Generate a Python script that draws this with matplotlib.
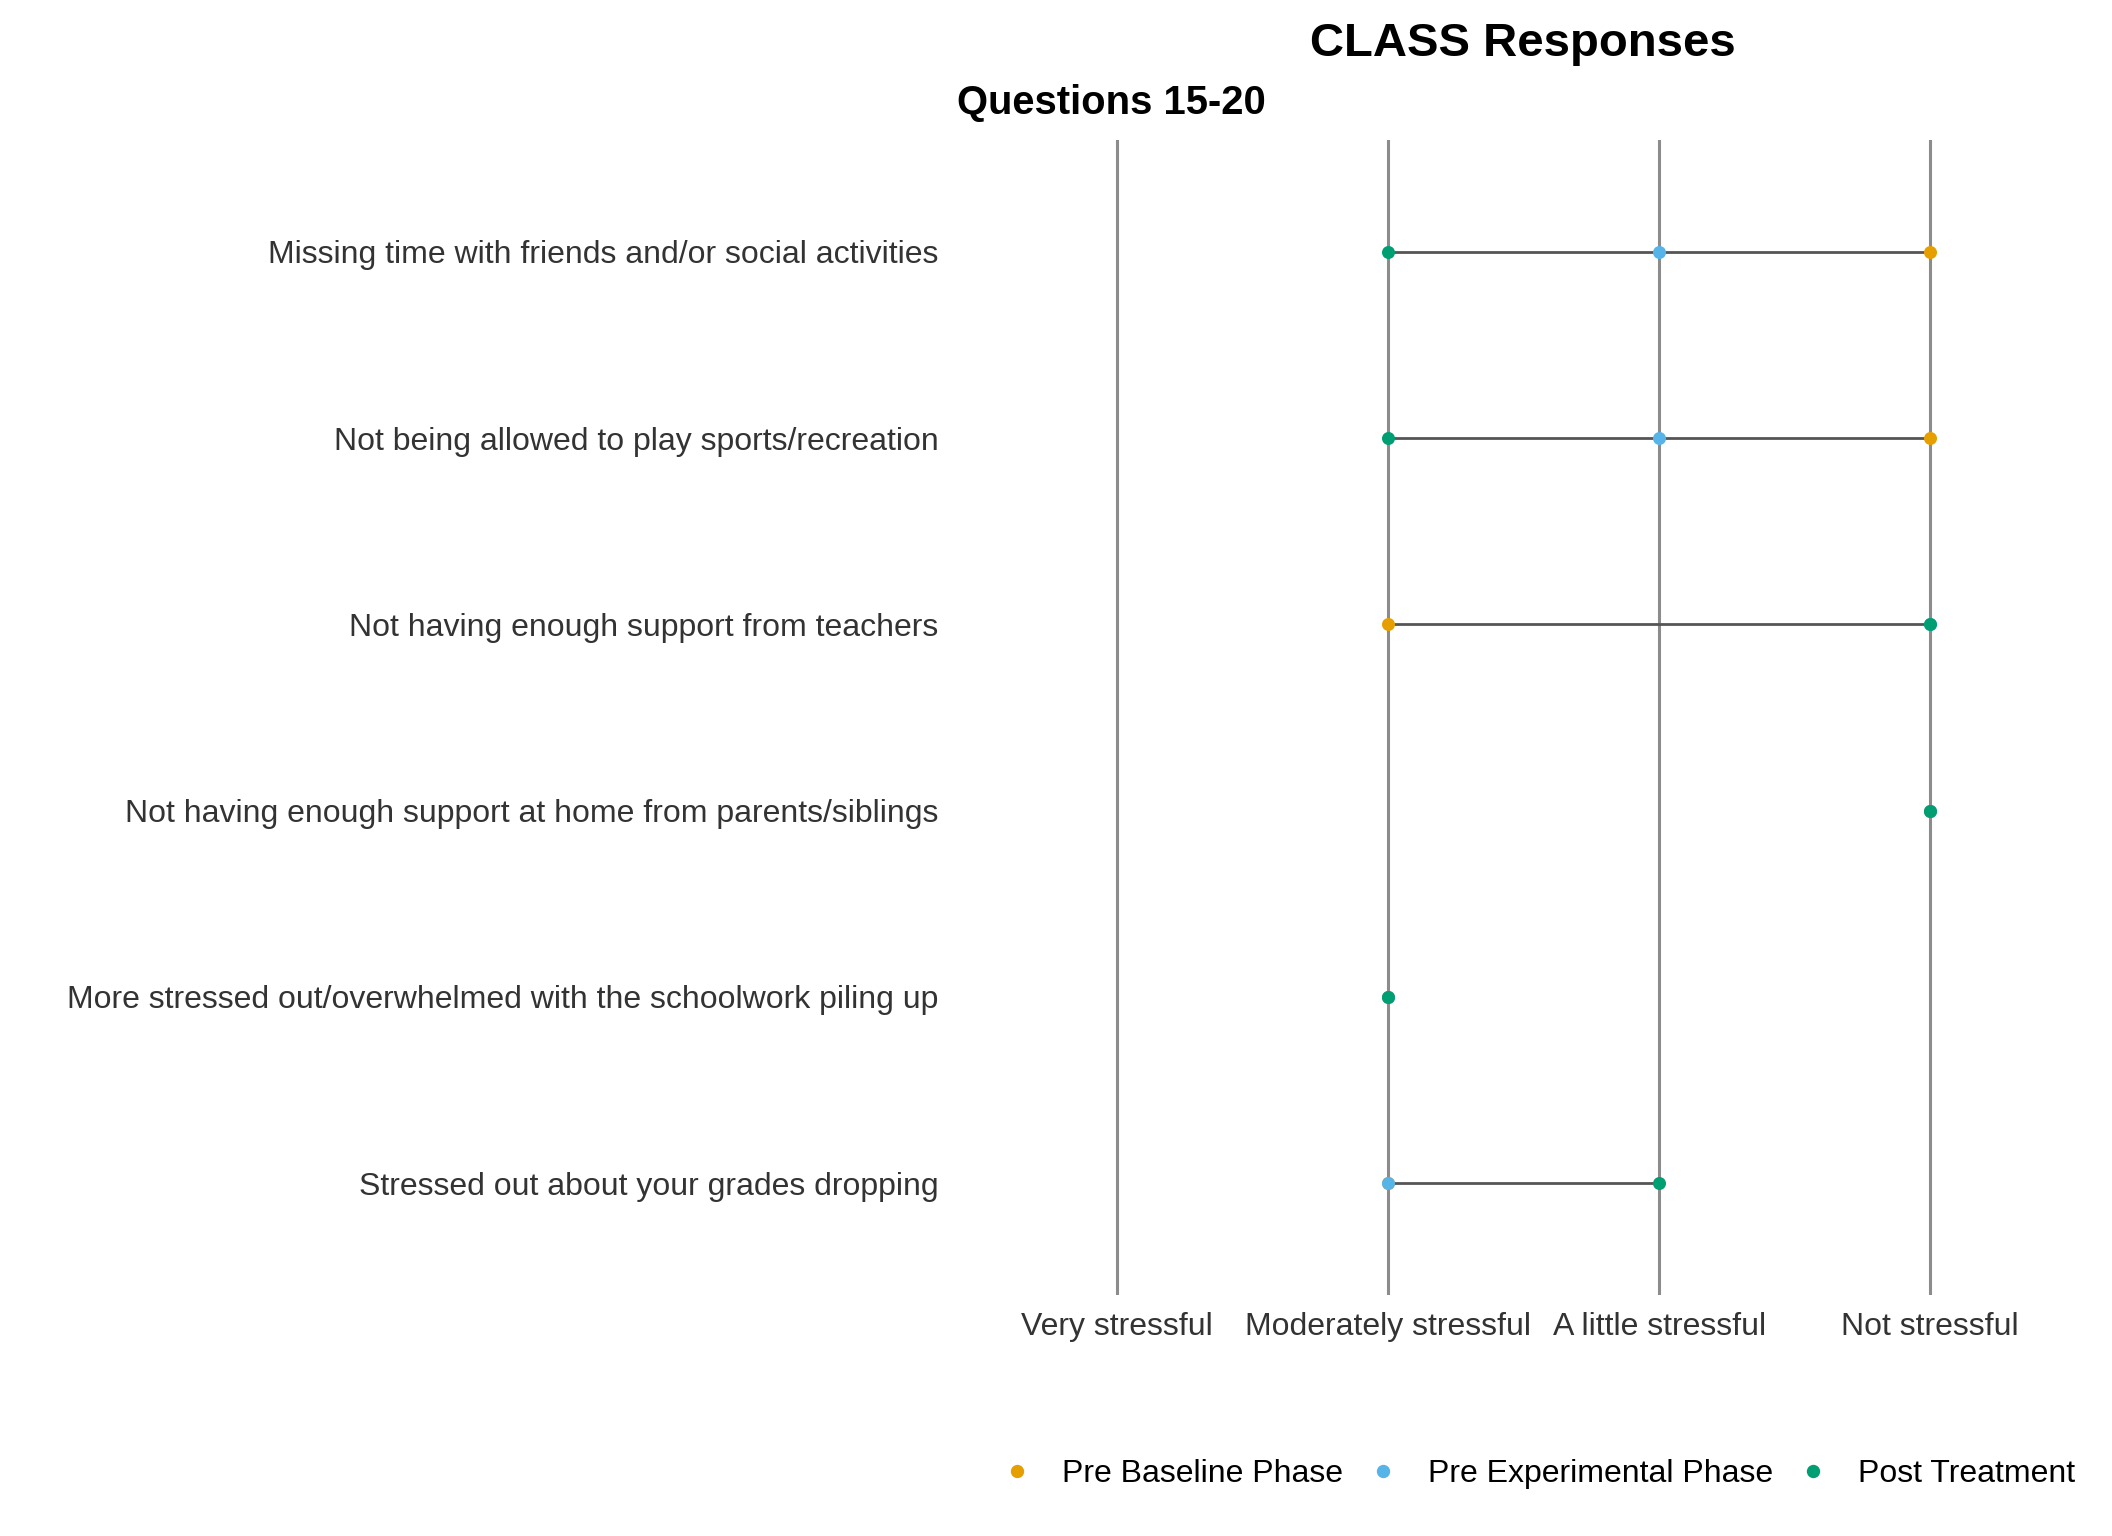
import matplotlib
matplotlib.use("Agg")
import matplotlib.pyplot as plt
from matplotlib.lines import Line2D

plt.rcParams['font.family'] = ['Liberation Sans', 'DejaVu Sans']

levels = ["Very stressful", "Moderately stressful", "A little stressful", "Not stressful"]
questions = [
    "Missing time with friends and/or social activities",
    "Not being allowed to play sports/recreation",
    "Not having enough support from teachers",
    "Not having enough support at home from parents/siblings",
    "More stressed out/overwhelmed with the schoolwork piling up",
    "Stressed out about your grades dropping",
]
series_names = ["Pre Baseline Phase", "Pre Experimental Phase", "Post Treatment"]
pre_baseline = ["Not stressful", "Not stressful", "Moderately stressful", "Not stressful",
                "Moderately stressful", "Moderately stressful"]
pre_experimental = ["A little stressful", "A little stressful", "Not stressful", "Not stressful",
                    "Moderately stressful", "Moderately stressful"]
post_treatment = ["Moderately stressful", "Moderately stressful", "Not stressful", "Not stressful",
                  "Moderately stressful", "A little stressful"]
colors = ["#E69F00", "#56B4E9", "#009E73"]

W, H = 2112, 1536
dpi = 200
fig = plt.figure(figsize=(W / dpi, H / dpi), dpi=dpi)
ax = fig.add_axes([954 / W, 1 - 1295 / H, (2093 - 954) / W, (1295 - 140) / H])

lvl = {l: i for i, l in enumerate(levels)}
ypos = list(range(len(questions)))
all_series = [pre_baseline, pre_experimental, post_treatment]

for i in ypos:
    vals = [lvl[s[i]] for s in all_series]
    lo, hi = min(vals), max(vals)
    if hi > lo:
        ax.plot([lo, hi], [i, i], color="#555555", lw=1.0, zorder=2, solid_capstyle='butt')

for s, c, name in zip(all_series, colors, series_names):
    ax.scatter([lvl[v] for v in s], ypos, s=22, color=c, zorder=3, linewidths=0, label=name)

ax.set_xlim(-0.6, len(levels) - 1 + 0.6)
ax.set_ylim(len(questions) - 1 + 0.6, -0.6)
ax.set_xticks(range(len(levels)))
ax.set_xticklabels(levels)
ax.set_yticks(ypos)
ax.set_yticklabels(questions)
ax.tick_params(axis='both', length=0, labelsize=11.5, colors="#4d4d4d", labelcolor="#333333")
ax.tick_params(axis='x', pad=6)
ax.tick_params(axis='y', pad=5.5)
ax.grid(axis='x', color="#8c8c8c", lw=1.1, zorder=1)
ax.grid(axis='y', visible=False)
ax.set_axisbelow(True)
for sp in ax.spines.values():
    sp.set_visible(False)

fig.text(1523 / W, 1 - 44 / H, "CLASS Responses", ha='center', va='center',
         fontsize=17, fontweight='bold', color='black')
fig.text(1111 / W, 1 - 103 / H, "Questions 15-20", ha='center', va='center',
         fontsize=14.4, fontweight='bold', color='black')

handles = [Line2D([], [], marker='o', ls='none', color=c, markersize=4.8, markeredgewidth=0)
           for c in colors]
fig.legend(handles, series_names, loc='center', bbox_to_anchor=(1538 / W, 1 - 1474 / H),
           ncol=3, frameon=False, fontsize=11.5, handlelength=1.0, handletextpad=0.9,
           columnspacing=0.75, borderpad=0, borderaxespad=0)

fig.savefig("out.png", dpi=dpi, facecolor='white')
